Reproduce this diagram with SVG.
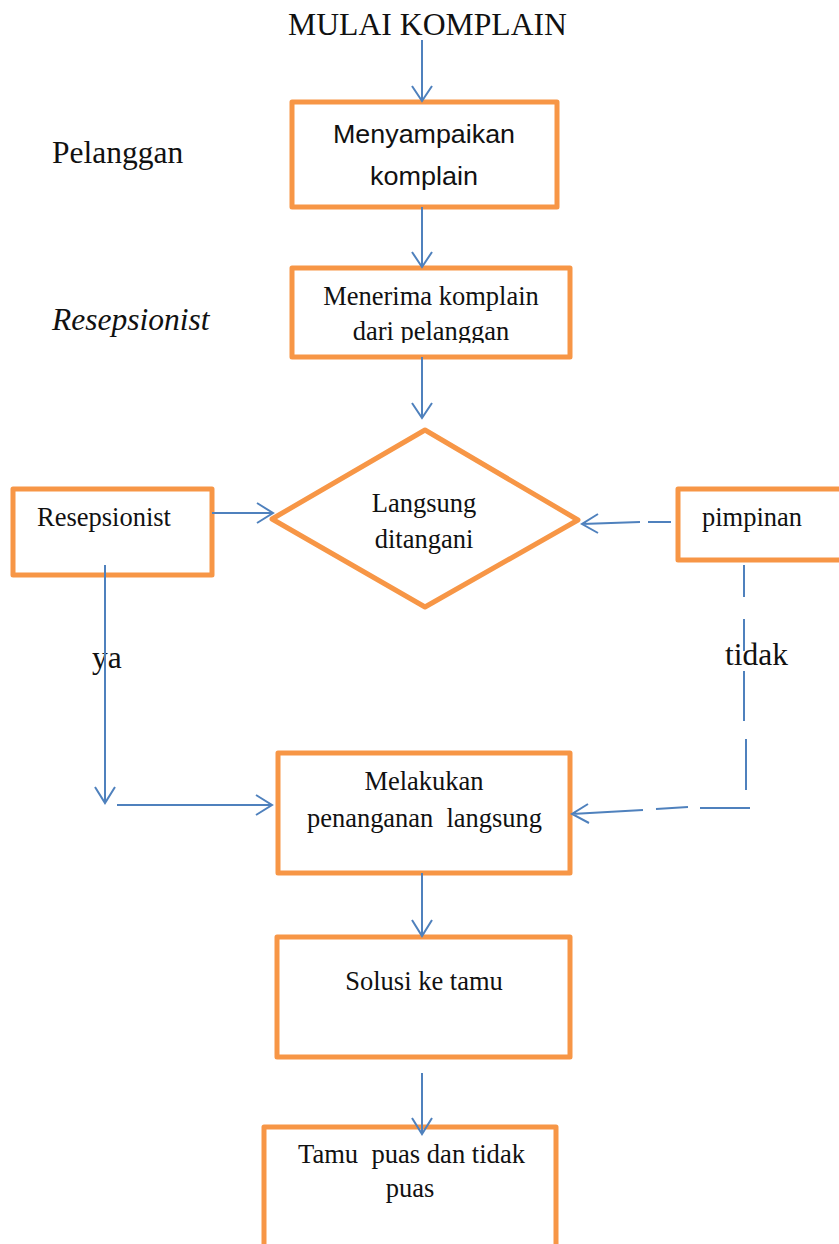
<svg xmlns="http://www.w3.org/2000/svg" width="839" height="1244" viewBox="0 0 839 1244">
<style>
.box{fill:#fff;stroke:#F79646;stroke-width:5;stroke-linejoin:round}
.c{fill:none;stroke:#4F81BD;stroke-width:2}
.t{font-family:"Liberation Serif","Times New Roman",serif;font-size:26.5px;fill:#111;white-space:pre}
.big{font-family:"Liberation Serif","Times New Roman",serif;font-size:31.5px;fill:#111}
.s{font-family:"Liberation Sans",Arial,sans-serif;font-size:26px;fill:#111}
</style>
<defs>
<clipPath id="clip2"><rect x="290" y="266" width="282" height="77"/></clipPath>
</defs>
<rect width="839" height="1244" fill="#fff"/>
<g id="labels">
<text class="big" x="288" y="35" textLength="279" lengthAdjust="spacingAndGlyphs">MULAI KOMPLAIN</text>
<text class="big" x="52" y="163">Pelanggan</text>
<text class="big" x="52" y="330" font-style="italic">Resepsionist</text>
<text class="big" x="92" y="668">ya</text>
<text class="big" x="725" y="665">tidak</text>
</g>
<g id="n1">
<rect class="box" x="292" y="102" width="265" height="105"/>
<text class="s" x="333" y="143" textLength="182" lengthAdjust="spacingAndGlyphs">Menyampaikan</text>
<text class="s" x="370" y="185" textLength="108" lengthAdjust="spacingAndGlyphs">komplain</text>
</g>
<g id="n2">
<rect class="box" x="292" y="268" width="278" height="89"/>
<g clip-path="url(#clip2)">
<text class="t" x="431" y="305" text-anchor="middle">Menerima komplain</text>
<text class="t" x="431" y="340" text-anchor="middle">dari pelanggan</text>
</g>
</g>
<g id="n3">
<polygon class="box" points="425,430 578,520 425,607 272,519"/>
<text class="t" x="424" y="512" text-anchor="middle">Langsung</text>
<text class="t" x="424" y="548" text-anchor="middle">ditangani</text>
</g>
<g id="n4">
<rect class="box" x="13" y="489" width="199" height="86"/>
<text class="t" x="37" y="526">Resepsionist</text>
</g>
<g id="n5">
<rect class="box" x="678" y="489" width="170" height="71"/>
<text class="t" x="702" y="526">pimpinan</text>
</g>
<g id="n6">
<rect class="box" x="278" y="753" width="292" height="120"/>
<text class="t" x="424" y="790" text-anchor="middle">Melakukan</text>
<text class="t" x="307" y="827" textLength="235" lengthAdjust="spacingAndGlyphs" xml:space="preserve">penanganan  langsung</text>
</g>
<g id="n7">
<rect class="box" x="277" y="937" width="293" height="120"/>
<text class="t" x="424" y="990" text-anchor="middle">Solusi ke tamu</text>
</g>
<g id="n8">
<rect class="box" x="264" y="1127" width="292" height="140"/>
<text class="t" x="298" y="1163" textLength="227" lengthAdjust="spacingAndGlyphs" xml:space="preserve">Tamu  puas dan tidak</text>
<text class="t" x="410" y="1197" text-anchor="middle">puas</text>
</g>
<g id="connectors">
<path class="c" d="M422,40 V101 M412,86 L422,101 L432,86"/>
<path class="c" d="M422,207 V267 M412,252 L422,267 L432,252"/>
<path class="c" d="M422,357 V418 M412,403 L422,418 L432,403"/>
<path class="c" d="M212,513 H273 M257,503 L273,513 L257,523"/>
<path class="c" d="M671,522 L648,522 M640,522 L582,524 M598,514 L582,524 L598,533"/>
<path class="c" d="M744,565 V597 M744,619 V651 M744,671 V721 M746,739 V790 M700,808 H750 M688,807 L656,809 M643,810 L572,814 M588,804 L572,814 L589,823"/>
<path class="c" d="M105,565 V803 M95,787 L105,803 L115,787"/>
<path class="c" d="M117,805 H272 M256,795 L272,805 L256,815"/>
<path class="c" d="M422,873 V936 M412,920 L422,936 L432,920"/>
<path class="c" d="M422,1073 V1134 M412,1118 L422,1134 L432,1118"/>
</g>
</svg>
